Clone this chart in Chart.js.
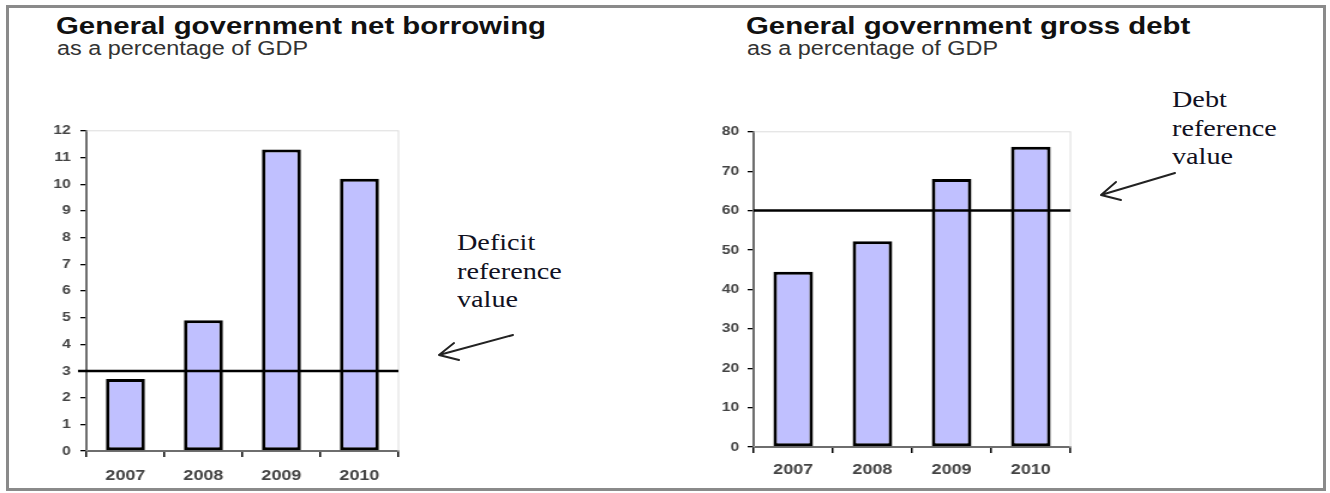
<!DOCTYPE html>
<html>
<head>
<meta charset="utf-8">
<script src="https://cdn.jsdelivr.net/npm/chart.js@4.4.1/dist/chart.umd.min.js"></script>
<style>
  html, body { margin: 0; padding: 0; background: #fff; }
  body { width: 1330px; height: 493px; position: relative; overflow: hidden; font-family: Arial, "Liberation Sans", sans-serif; }
  .frame { position: absolute; left: 6px; top: 5px; width: 1314px; height: 480px; border: 3px solid #8a8a8a; box-sizing: content-box; }
  .stretch { position: absolute; transform: scaleX(1.2); transform-origin: 0 0; white-space: nowrap; }
  .title { font-weight: bold; font-size: 24.5px; line-height: 24.5px; color: #111; }
  .subtitle { font-size: 19.5px; line-height: 19.5px; color: #333; }
  .note { font-family: "Liberation Serif", "Times New Roman", serif; font-size: 23.5px; line-height: 28.5px; color: #111122; }
  svg { position: absolute; left: 0; top: 0; }
</style>
</head>
<body>
<div class="frame"></div>

<div class="stretch title" style="left:56px; top:14px;">General government net borrowing</div>
<div class="stretch subtitle" style="left:57px; top:39px;">as a percentage of GDP</div>
<div class="stretch title" style="left:746px; top:14px;">General government gross debt</div>
<div class="stretch subtitle" style="left:747px; top:39px;">as a percentage of GDP</div>

<div class="stretch note" style="left:457px; top:228px;">Deficit<br>reference<br>value</div>
<div class="stretch note" style="left:1172px; top:85px;">Debt<br>reference<br>value</div>

<svg width="1330" height="493">
  <g stroke="#222" stroke-width="2" fill="none" stroke-linecap="round">
    <path d="M513 335 L439 355 M439 355 L454 343 M439 355 L459 360"/>
    <path d="M1175 173 L1101 195 M1101 195 L1116 182 M1101 195 L1121 200"/>
  </g>
</svg>

<div class="stretch" style="left:30px; top:115px; width:310px; height:371px;">
  <canvas id="borrowingChart" width="310" height="371"></canvas>
</div>
<div class="stretch" style="left:690px; top:117px; width:320px; height:365px;">
  <canvas id="debtChart" width="320" height="365"></canvas>
</div>

<script>
// data
const years = ['2007', '2008', '2009', '2010'];
const netBorrowing = [2.7, 4.9, 11.3, 10.2];
const grossDebt = [44.5, 52.2, 68.0, 76.2];
const deficitReference = 3;
const debtReference = 60;
const borrowingAxis = [0, 12, 1];   // min, max, step
const debtAxis = [0, 80, 10];

const barFill = '#c0c0ff';
const tickFont = 'Arial, "Liberation Sans", sans-serif';

// reference line + faint plot frame
const refLinePlugin = {
    id: 'refLine',
    beforeDatasetsDraw(chart) {
        const { ctx, chartArea } = chart;
        ctx.save();
        ctx.strokeStyle = '#dcdcdc';
        ctx.lineWidth = 1;
        ctx.strokeRect(chartArea.left, chartArea.top, chartArea.right - chartArea.left, chartArea.bottom - chartArea.top);
        ctx.restore();
    },
    afterDatasetsDraw(chart, args, opts) {
        const { ctx, chartArea, scales } = chart;
        const y = scales.y.getPixelForValue(opts.value);
        ctx.save();
        ctx.strokeStyle = '#000';
        ctx.lineWidth = 2.5;
        ctx.beginPath();
        ctx.moveTo(chartArea.left - opts.overhang, y);
        ctx.lineTo(chartArea.right, y);
        ctx.stroke();
        ctx.restore();
    }
};

function makeChart(id, values, axis, ref, opt) {
    const ctx = document.getElementById(id).getContext('2d');
    return new Chart(ctx, {
        type: 'bar',
        data: {
            labels: years,
            datasets: [{
                data: values,
                backgroundColor: barFill,
                borderColor: '#000',
                borderWidth: 3,
                borderSkipped: false,
                categoryPercentage: 1,
                barPercentage: 0.5
            }]
        },
        options: {
            responsive: false,
            animation: false,
            layout: { padding: { top: 10, right: 3, left: 0, bottom: 0 } },
            plugins: {
                legend: { display: false },
                tooltip: { enabled: false },
                refLine: { value: ref, overhang: opt.overhang }
            },
            scales: {
                x: {
                    afterFit: s => { s.height = 35; },
                    grid: { offset: true, drawOnChartArea: false, drawTicks: true, tickLength: 6, color: '#000', lineWidth: 1.5 },
                    border: { display: true, color: '#000', width: 2 },
                    ticks: { color: '#444', padding: opt.xPad, font: { family: tickFont, size: 15, weight: 'bold' } }
                },
                y: {
                    min: axis[0],
                    max: axis[1],
                    afterFit: s => { s.width = opt.yWidth; },
                    grid: { drawOnChartArea: false, drawTicks: true, tickLength: 5, color: '#000', lineWidth: 1.3 },
                    border: { display: true, color: '#000', width: 2 },
                    ticks: { stepSize: axis[2], color: '#444', padding: opt.yPad, font: { family: tickFont, size: 13, weight: 'bold' } }
                }
            }
        },
        plugins: [refLinePlugin]
    });
}

makeChart('borrowingChart', netBorrowing, borrowingAxis, deficitReference, { overhang: 7, yWidth: 47, yPad: 8, xPad: 10 });
makeChart('debtChart', grossDebt, debtAxis, debtReference, { overhang: 0, yWidth: 53, yPad: 7, xPad: 8 });
</script>
</body>
</html>
